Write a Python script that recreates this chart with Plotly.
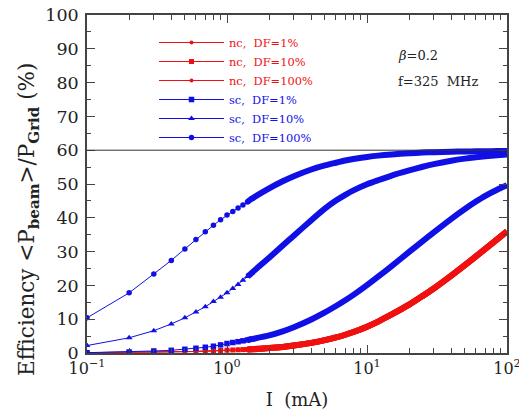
import plotly.graph_objects as go

# Beam current I (mA)
I_mA = [0.1, 0.2, 0.3, 0.4, 0.5, 0.6, 0.7, 0.8, 0.9, 1.0,
        1.1, 1.2, 1.3, 1.4, 1.5, 2, 2.5, 3, 4, 5, 6, 7, 8, 10, 12,
        15, 20, 25, 30, 40, 50, 60, 70, 85, 100]

# Efficiency (%)
nc_df1 = [0.1, 0.15, 0.2, 0.3, 0.35, 0.45, 0.55, 0.65, 0.75, 0.85,
          0.9, 0.95, 1.0, 1.05, 1.1, 1.45, 1.8, 2.2, 3.0, 3.8, 4.6, 5.4, 6.2, 7.8, 9.3,
          11.4, 14.3, 16.9, 19.1, 22.9, 26.0, 28.6, 30.8, 33.6, 36.0]
nc_df10 = [0.1, 0.15, 0.2, 0.3, 0.35, 0.45, 0.55, 0.65, 0.75, 0.85,
           0.9, 0.95, 1.0, 1.05, 1.1, 1.45, 1.8, 2.2, 3.0, 3.8, 4.6, 5.4, 6.2, 7.8, 9.3,
           11.4, 14.3, 16.9, 19.1, 22.9, 26.0, 28.6, 30.8, 33.6, 36.0]
nc_df100 = [0.1, 0.15, 0.2, 0.3, 0.35, 0.45, 0.55, 0.65, 0.75, 0.85,
            0.9, 0.95, 1.0, 1.05, 1.1, 1.45, 1.8, 2.2, 3.0, 3.8, 4.6, 5.4, 6.2, 7.8, 9.3,
            11.4, 14.3, 16.9, 19.1, 22.9, 26.0, 28.6, 30.8, 33.6, 36.0]
sc_df1 = [0.1, 0.3, 0.6, 0.8, 1.1, 1.4, 1.7, 2.0, 2.4, 2.8,
          3.1, 3.35, 3.6, 3.85, 4.1, 5.2, 6.4, 7.6, 9.9, 12.0, 13.9, 15.6, 17.2, 20.1, 22.6,
          25.7, 29.9, 33.1, 35.7, 39.7, 42.6, 44.8, 46.5, 48.3, 49.6]
sc_df10 = [2.2, 4.5, 6.6, 8.6, 10.4, 12.1, 13.7, 15.2, 16.5, 17.8,
           19.1, 20.3, 21.5, 22.6, 23.7, 28.2, 31.8, 34.7, 39.3, 42.7, 45.1, 46.8, 48.1, 49.9, 51.1,
           52.5, 54.0, 55.1, 55.9, 56.9, 57.5, 57.9, 58.2, 58.5, 58.7]
sc_df100 = [10.4, 17.8, 23.4, 27.4, 30.8, 33.6, 35.9, 37.8, 39.4, 40.8,
            41.9, 42.9, 43.8, 44.7, 45.6, 48.7, 50.8, 52.3, 54.3, 55.5, 56.3, 56.95, 57.4, 58.0, 58.4,
            58.75, 59.1, 59.3, 59.42, 59.55, 59.62, 59.67, 59.7, 59.73, 59.75]

limit_line = 60

x_tick_vals = [0.1, 1, 10, 100]
x_tick_text = ["10<sup>−1</sup>", "10<sup>0</sup>", "10<sup>1</sup>", "10<sup>2</sup>"]
x_minor_vals = [0.2, 0.3, 0.4, 0.5, 0.6, 0.7, 0.8, 0.9,
                2, 3, 4, 5, 6, 7, 8, 9, 20, 30, 40, 50, 60, 70, 80, 90]

RED = "#f01010"
BLUE = "#1010e6"
NB = "\u00a0"

series = [
    ("nc," + NB * 2 + "DF=1%", nc_df1, RED, "circle", 4),
    ("nc," + NB * 2 + "DF=10%", nc_df10, RED, "square", 5),
    ("nc," + NB * 2 + "DF=100%", nc_df100, RED, "circle", 4),
    ("sc," + NB * 2 + "DF=1%", sc_df1, BLUE, "square", 5.5),
    ("sc," + NB * 2 + "DF=10%", sc_df10, BLUE, "triangle-up", 6),
    ("sc," + NB * 2 + "DF=100%", sc_df100, BLUE, "circle", 5.5),
]

dot_end = I_mA.index(1.5)
band_start = I_mA.index(1.4)

fig = go.Figure()
for name, vals, col, sym, ms in series:
    fig.add_trace(go.Scatter(
        x=I_mA[:dot_end + 1], y=vals[:dot_end + 1], mode="lines+markers",
        name=f'<span style="color:{col}">{name}</span>',
        line=dict(color=col, width=1),
        marker=dict(symbol=sym, size=ms, color=col),
    ))
    fig.add_trace(go.Scatter(
        x=I_mA[band_start:], y=vals[band_start:], mode="lines",
        showlegend=False, line=dict(color=col, width=6, shape="spline", smoothing=0.6),
    ))

fig.add_hline(y=limit_line, line=dict(color="#333", width=1))

fig.add_annotation(text="<i>β</i>=0.2", xref="paper", yref="paper",
                   x=(396 - 87) / 420, y=(353 - 55) / 338, xanchor="left", yanchor="middle",
                   showarrow=False, font=dict(size=13, color="#222"))
fig.add_annotation(text="f=325" + NB * 2 + "MHz", xref="paper", yref="paper",
                   x=(396 - 87) / 420, y=(353 - 81) / 338, xanchor="left", yanchor="middle",
                   showarrow=False, font=dict(size=13, color="#222"))

fig.add_annotation(
    text="Efficiency &lt;P<sub><b>beam</b></sub>&gt;/P<sub><b>Grid</b></sub> (%)",
    xref="paper", yref="paper", x=(28 - 87) / 420, y=(353 - 220) / 338,
    xanchor="center", yanchor="middle", textangle=-90, showarrow=False,
    font=dict(size=21.5, color="#222"))

fig.update_layout(
    width=519, height=414,
    margin=dict(l=87, r=12, t=15, b=61, autoexpand=False),
    plot_bgcolor="white", paper_bgcolor="white",
    font=dict(family="DejaVu Serif", size=16, color="#222"),
    legend=dict(x=(154 - 87) / 420, y=(353 - 28) / 338, xanchor="left", yanchor="top",
                bgcolor="rgba(0,0,0,0)", font=dict(size=11.4), itemwidth=65,
                tracegroupgap=0),
    showlegend=True,
)
fig.update_xaxes(
    type="log", range=[-1, 2], tickvals=x_tick_vals, ticktext=x_tick_text,
    ticks="inside", ticklen=8, tickcolor="#444", mirror="allticks",
    showline=True, linecolor="#444", linewidth=1.5, showgrid=False, zeroline=False,
    minor=dict(tickvals=x_minor_vals, ticks="inside", ticklen=5, tickcolor="#444", showgrid=False),
    tickfont=dict(size=16), automargin=False, ticklabeloverflow="allow",
    title=dict(text="I" + NB * 2 + "(mA)", standoff=16, font=dict(size=18)),
)
fig.update_yaxes(
    range=[0, 100], dtick=10, ticks="inside", ticklen=8, tickcolor="#444", mirror="allticks",
    showline=True, linecolor="#444", linewidth=1.5, showgrid=False, zeroline=False,
    minor=dict(dtick=5, ticks="inside", ticklen=4, tickcolor="#444", showgrid=False),
    tickfont=dict(size=17.5), automargin=False, ticklabeloverflow="allow",
    ticklabelstandoff=3,
)

fig.write_html("out.html", config={"displayModeBar": False},
               post_script="document.body.style.margin='0';")
